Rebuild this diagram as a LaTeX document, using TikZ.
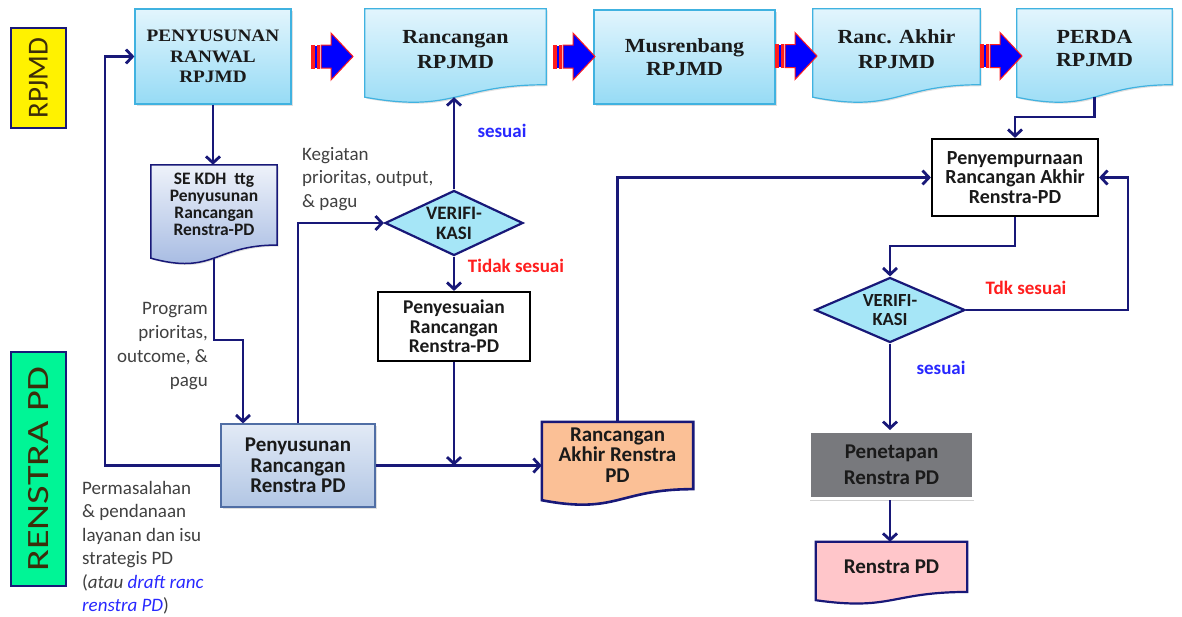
\documentclass[tikz,border=0pt]{standalone}
\usepackage{fontspec}
\setmainfont{Carlito}
\newfontfamily\camfont{Liberation Serif}[FakeStretch=1.1]
\newfontfamily\widefont{Carlito}[FakeStretch=1.3]
\usetikzlibrary{shapes.geometric,arrows.meta,calc,backgrounds,shadows}
\definecolor{navyc}{RGB}{24,24,120}
\definecolor{topT}{RGB}{226,245,253}
\definecolor{topB}{RGB}{150,219,245}
\definecolor{topD}{RGB}{64,178,224}
\definecolor{seT}{RGB}{238,242,250}
\definecolor{seB}{RGB}{160,182,224}
\definecolor{prT}{RGB}{226,234,246}
\definecolor{prB}{RGB}{178,198,228}
\definecolor{prD}{RGB}{80,110,165}
\definecolor{diamc}{RGB}{166,230,247}
\definecolor{salmon}{RGB}{251,192,150}
\definecolor{pinkc}{RGB}{255,198,202}
\definecolor{grayc}{RGB}{120,121,125}
\definecolor{lblgray}{RGB}{64,64,64}
\definecolor{okblue}{RGB}{40,40,255}
\definecolor{nored}{RGB}{255,30,30}
\definecolor{lanegreen}{RGB}{0,245,150}
\definecolor{txt}{RGB}{26,26,26}
\definecolor{lanetxt}{RGB}{60,45,10}
\newcommand{\drawdoc}[2]{\path[#2] (#1.north west) -- (#1.north east) -- ($(#1.north east)!0.859!(#1.south east)$) .. controls ($(#1.north)!0.859!(#1.south)$) and ($(#1.north)!1.185!(#1.south)$) .. (#1.south west) -- cycle;}
\tikzset{barrow/.pic={
  \fill[nored] (0,-12) rectangle (4,12);
  \fill[blue] (4,-11) rectangle (5.5,11);
  \fill[nored] (5.5,-12) rectangle (9,12);
  \draw[nored, line width=1pt, fill=blue, line join=miter] (10,-11.5) -- (20,-11.5) -- (20,-23.5) -- (42,0) -- (20,23.5) -- (20,11.5) -- (10,11.5) -- cycle;
}}
\begin{document}
\begin{tikzpicture}[x=1pt,y=-1pt,
  conn/.style={draw=navyc, line width=2.8pt, -{Straight Barb[length=6.5pt,width=14pt]}},
  shad/.style={drop shadow={opacity=.25,shadow xshift=1.5pt,shadow yshift=-1.5pt}},
  topbox/.style={rectangle, draw=topD, line width=1.2pt, top color=topT, bottom color=topB, shad, inner sep=0, align=center, text=txt, font=\camfont\bfseries\fontsize{20}{24}\selectfont},
  topdoc/.style={draw=topD, line width=1.2pt, top color=topT, bottom color=topB, shad},
  docnode/.style={rectangle, inner sep=0},
  toptxt/.style={align=center, text=txt, inner sep=0, font=\camfont\bfseries\fontsize{20}{25}\selectfont},
  boldtxt/.style={align=center, text=txt, inner sep=0, font=\bfseries\fontsize{#1}{#1}\selectfont},
  plainbox/.style={rectangle, draw=black, line width=2.2pt, fill=white, inner sep=0, align=center, text=txt},
  diam/.style={diamond, draw=navyc, line width=2.2pt, fill=diamc, inner sep=0},
  lbl/.style={font=\fontsize{19}{23.5}\selectfont, text=lblgray, inner sep=0},
  oklbl/.style={font=\bfseries\fontsize{19}{21}\selectfont, text=okblue, inner sep=0},
  nolbl/.style={font=\bfseries\fontsize{19}{21}\selectfont, text=nored, inner sep=0},
  lane/.style={draw=navyc, line width=1.5pt, rotate=90, minimum height=55, inner sep=0, text=lanetxt}
]
\useasboundingbox (0,0) rectangle (1182,616);

% lanes
\node[lane, fill=yellow, minimum width=100, font=\fontsize{29}{30}\selectfont] (laneA) at (38.5,78) {RPJMD};
\node[lane, fill=lanegreen, minimum width=234, font=\widefont\fontsize{31}{32}\selectfont] (laneB) at (38.5,469) {RENSTRA PD};

% top row
\node[topbox, minimum width=156, minimum height=95, font=\camfont\bfseries\fontsize{17.5}{20.5}\selectfont] (ranwal) at (213,56.5) {PENYUSUNAN\\RANWAL\\RPJMD};
\node[docnode, minimum width=181, minimum height=88, label={[toptxt, yshift=3.5pt]center:{Rancangan\\RPJMD}}] (rancR) at (455.5,53) {};
\node[topbox, minimum width=181, minimum height=94, font=\camfont\bfseries\fontsize{20}{23}\selectfont] (musren) at (684.5,57) {Musrenbang\\RPJMD};
\node[docnode, minimum width=167, minimum height=88, label={[toptxt, yshift=3.5pt]center:{Ranc. Akhir\\RPJMD}}] (rakhir) at (896.5,53) {};
\node[docnode, minimum width=155, minimum height=88, label={[toptxt, yshift=4.5pt, font=\camfont\bfseries\fontsize{20}{23}\selectfont]center:{PERDA\\RPJMD}}] (perda) at (1094.5,53) {};

\pic at (311,56.5) {barrow};
\pic at (553,56.5) {barrow};
\pic at (775,56) {barrow};
\pic at (980,56) {barrow};

% middle / lower
\node[docnode, minimum width=126, minimum height=93, label={[boldtxt=18, yshift=7.5pt, font=\bfseries\fontsize{17.5}{17}\selectfont]center:{SE KDH\ \ ttg\\Penyusunan\\Rancangan\\Renstra-PD}}] (se) at (214,211.5) {};
\node[rectangle, draw=prD, line width=1.2pt, top color=prT, bottom color=prB, shad, minimum width=154, minimum height=83, inner sep=0, align=center, text=txt, font=\bfseries\fontsize{21}{20.5}\selectfont] (prs) at (298,465.5) {Penyusunan\\Rancangan\\Renstra PD};
\node[diam, minimum width=138, minimum height=65, label={[boldtxt=19, font=\bfseries\fontsize{19}{20}\selectfont]center:{VERIFI-\\KASI}}] (v1) at (454,223) {};
\node[plainbox, minimum width=152, minimum height=69, font=\bfseries\fontsize{19.5}{19.5}\selectfont] (peny) at (454,326.5) {Penyesuaian\\Rancangan\\Renstra-PD};
\node[docnode, minimum width=151, minimum height=78, label={[boldtxt=21, yshift=6pt, font=\bfseries\fontsize{21}{20.5}\selectfont]center:{Rancangan\\Akhir Renstra\\PD}}] (rars) at (617.5,461) {};
\node[plainbox, minimum width=166, minimum height=77, font=\bfseries\fontsize{20}{19.5}\selectfont] (pyp) at (1015,177.5) {Penyempurnaan\\Rancangan Akhir\\Renstra-PD};
\node[diam, minimum width=150, minimum height=65, label={[boldtxt=19, font=\bfseries\fontsize{18.5}{19}\selectfont]center:{VERIFI-\\KASI}}] (v2) at (890,310) {};
\node[rectangle, fill=grayc, draw=white, line width=3pt, minimum width=164, minimum height=67, inner sep=0, align=center, text=txt, font=\bfseries\fontsize{21}{26}\selectfont, drop shadow={opacity=.35,shadow xshift=0pt,shadow yshift=-2pt}] (pen) at (891.5,465) {Penetapan\\Renstra PD};
\node[docnode, minimum width=151, minimum height=58, label={[boldtxt=21, yshift=4pt]center:{Renstra PD}}] (rpd) at (891.5,571) {};

% document shapes behind
\begin{scope}[on background layer]
\drawdoc{rancR}{topdoc}
\drawdoc{rakhir}{topdoc}
\drawdoc{perda}{topdoc}
\drawdoc{se}{draw=navyc, line width=1.5pt, top color=seT, bottom color=seB, shad}
\drawdoc{rars}{draw=navyc, line width=2.6pt, fill=salmon}
\drawdoc{rpd}{draw=navyc, line width=2.2pt, fill=pinkc}
\end{scope}

% connectors
\draw[conn] (ranwal.south) -- (ranwal.south |- se.north);
\coordinate (k1) at (243,340);
\draw[conn] (se.south) |- (k1) -- (k1 |- prs.north);
\coordinate (k2) at (105,465.5);
\draw[conn] (prs.west) -- (k2) |- (ranwal.west);
\draw[conn] (prs.north) |- (v1.west);
\draw[conn] (v1.north) -- (v1.north |- rancR.south);
\draw[conn] (v1.south) -- (peny.north);
\draw[conn] (peny.south) -- (peny.south |- prs.east);
\draw[conn] (prs.east) -- (prs.east -| rars.west);
\draw[conn] (rars.north) |- (pyp.west);
\coordinate (k3) at (1015,117);
\draw[conn] (perda.south) |- (k3) -- (pyp.north);
\coordinate (k4) at (890,246);
\draw[conn] (pyp.south) |- (k4) -- (v2.north);
\coordinate (k5) at (1128,310);
\draw[conn] (v2.east) -- (k5) |- (pyp.east);
\draw[conn] (v2.south) -- (v2.south |- pen.north);
\draw[conn] (pen.south -| v2.south) -- (v2.south |- rpd.north);

% labels
\node[oklbl] (s1) at (502,131) {sesuai};
\node[nolbl] (t1) at (516,266) {Tidak sesuai};
\node[nolbl] (t2) at (1026,288) {Tdk sesuai};
\node[oklbl] (s2) at (941,368) {sesuai};
\node[lbl, anchor=north west, align=left] (kl) at (302,147) {Kegiatan\\prioritas, output,\\\& pagu};
\node[lbl, anchor=north east, align=right, font=\fontsize{19}{24}\selectfont] (pl) at (208,302) {Program\\prioritas,\\outcome, \&\\pagu};
\node[lbl, anchor=north west, align=left] (ml) at (82,481) {Permasalahan\\\& pendanaan\\layanan dan isu\\strategis PD\\(\textit{atau \textcolor{okblue}{draft ranc}}\\\textit{\textcolor{okblue}{renstra PD}})};
\end{tikzpicture}
\end{document}
